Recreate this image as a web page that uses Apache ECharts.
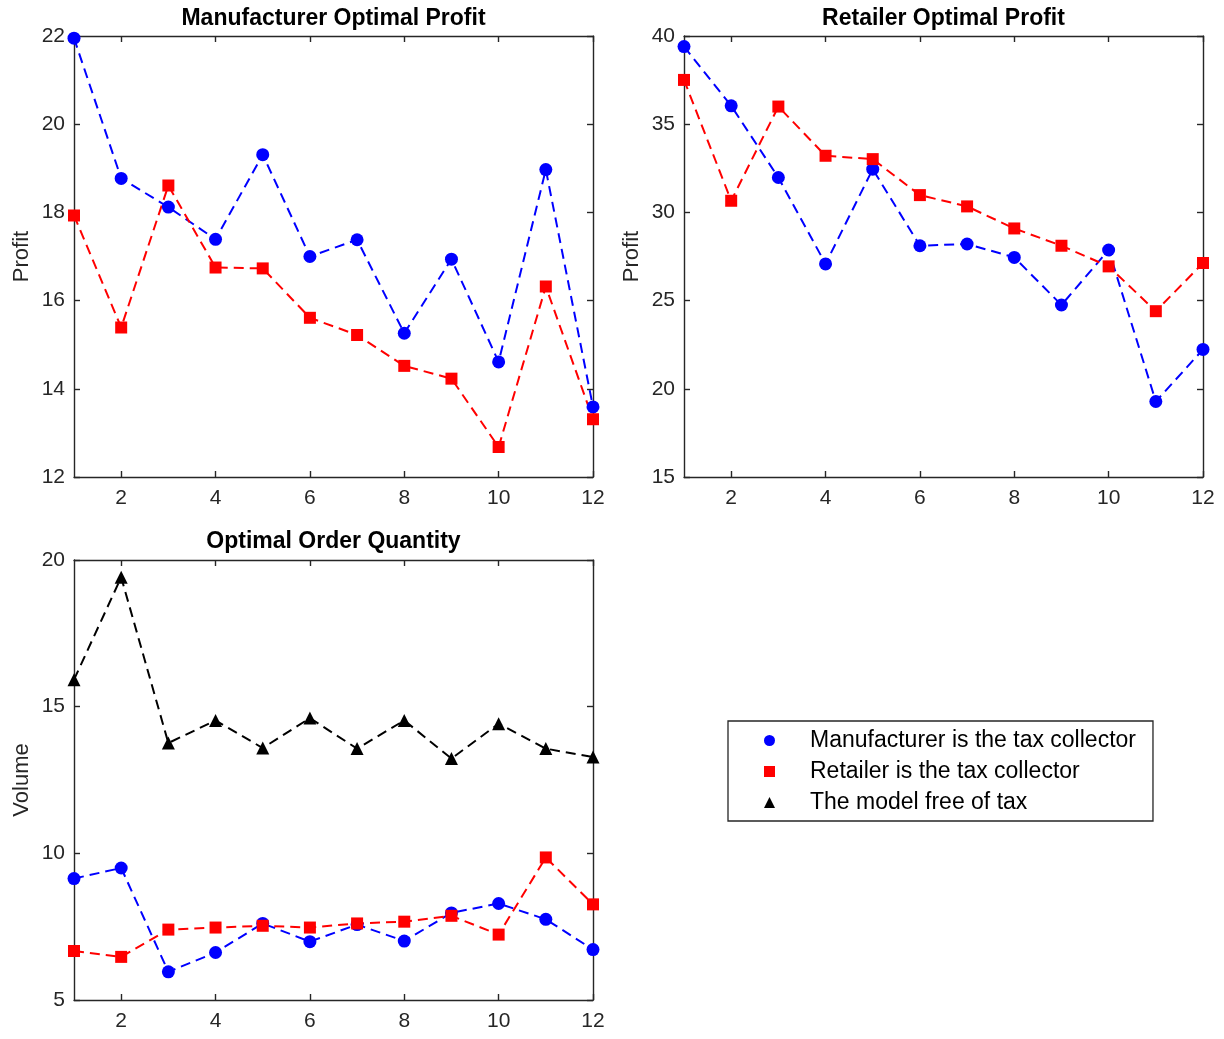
<!DOCTYPE html>
<html>
<head>
<meta charset="utf-8">
<script src="https://cdn.jsdelivr.net/npm/echarts@6/dist/echarts.min.js"></script>
<style>
html,body{margin:0;padding:0;background:#fff;}
#chart{width:1224px;height:1039px;}
</style>
</head>
<body>
<div id="chart"></div>
<script>
// ---- data ----
const periods = [1,2,3,4,5,6,7,8,9,10,11,12];
const xTicks = [2,4,6,8,10,12];

const seriesNames = ['Manufacturer is the tax collector','Retailer is the tax collector','The model free of tax'];

const mfgProfitM = [21.95,18.77,18.12,17.39,19.31,17.00,17.38,15.26,16.94,14.61,18.97,13.59];
const mfgProfitR = [17.93,15.39,18.61,16.75,16.73,15.61,15.22,14.52,14.23,12.68,16.32,13.31];

const retProfitM = [39.40,36.04,31.98,27.08,32.45,28.11,28.21,27.45,24.75,27.87,19.28,22.23];
const retProfitR = [37.51,30.66,36.00,33.21,33.02,30.98,30.34,29.09,28.11,26.94,24.40,27.13];

const qtyM    = [9.14,9.50,5.96,6.62,7.61,6.99,7.57,7.01,7.97,8.29,7.75,6.72];
const qtyR    = [6.67,6.47,7.40,7.47,7.53,7.47,7.61,7.67,7.87,7.23,9.86,8.26];
const qtyFree = [15.92,19.41,13.76,14.53,13.59,14.61,13.57,14.53,13.23,14.42,13.57,13.28];

const titles = ['Manufacturer Optimal Profit','Retailer Optimal Profit','Optimal Order Quantity'];
const yNames = ['Profit','Profit','Volume'];
const yRanges = [[12,22,2],[15,40,5],[5,20,5]];

// ---- build ----
const FONT = '"Liberation Sans", Arial, Helvetica, sans-serif';
const AX = '#262626';
const pairs = arr => periods.map((p,i)=>[p, arr[i]]);

const grids = [
  {left:74, right:631, top:36, height:441},
  {left:684, right:21, top:36, height:441},
  {left:74, right:631, top:560, height:440}
];

const xAxes = [], yAxes = [];
grids.forEach((g,gi)=>{
  xAxes.push({type:'value', gridIndex:gi, min:1, max:12, position:'bottom',
    axisLine:{show:true, onZero:false, lineStyle:{color:AX, width:1.4}},
    axisTick:{show:true, inside:true, length:6, customValues:xTicks, lineStyle:{color:AX, width:1.4}},
    axisLabel:{show:true, customValues:xTicks, margin:11, color:AX, fontSize:21, fontFamily:FONT},
    splitLine:{show:false}});
  xAxes.push({type:'value', gridIndex:gi, min:1, max:12, position:'top',
    axisLine:{show:true, onZero:false, lineStyle:{color:AX, width:1.4}},
    axisTick:{show:true, inside:true, length:6, customValues:xTicks, lineStyle:{color:AX, width:1.4}},
    axisLabel:{show:false}, splitLine:{show:false}});
  const r = yRanges[gi];
  yAxes.push({type:'value', gridIndex:gi, min:r[0], max:r[1], interval:r[2], position:'left',
    name:yNames[gi], nameLocation:'middle', nameGap:41,
    nameTextStyle:{color:AX, fontSize:22, fontFamily:FONT},
    axisLine:{show:true, onZero:false, lineStyle:{color:AX, width:1.4}},
    axisTick:{show:true, inside:true, length:6, lineStyle:{color:AX, width:1.4}},
    axisLabel:{show:true, margin:9, color:AX, fontSize:21, fontFamily:FONT},
    splitLine:{show:false}});
  yAxes.push({type:'value', gridIndex:gi, min:r[0], max:r[1], interval:r[2], position:'right',
    axisLine:{show:true, onZero:false, lineStyle:{color:AX, width:1.4}},
    axisTick:{show:true, inside:true, length:6, lineStyle:{color:AX, width:1.4}},
    axisLabel:{show:false}, splitLine:{show:false}});
});

function mk(name, data, gi, color, symbol, size){
  return {type:'line', name:name, data:pairs(data), xAxisIndex:gi*2, yAxisIndex:gi*2,
    symbol:symbol, symbolSize:size, showSymbol:true, clip:false, animation:false,
    itemStyle:{color:color}, lineStyle:{color:color, width:2, type:[10,6]}, z:3};
}

const series = [
  mk(seriesNames[0], mfgProfitM, 0, '#0000ff', 'circle', 13),
  mk(seriesNames[1], mfgProfitR, 0, '#ff0000', 'rect', 12),
  mk(seriesNames[0], retProfitM, 1, '#0000ff', 'circle', 13),
  mk(seriesNames[1], retProfitR, 1, '#ff0000', 'rect', 12),
  mk(seriesNames[0], qtyM, 2, '#0000ff', 'circle', 13),
  mk(seriesNames[1], qtyR, 2, '#ff0000', 'rect', 12),
  mk(seriesNames[2], qtyFree, 2, '#000000', 'triangle', 13)
];

const titleCenters = [[333.5,7],[943.5,7],[333.5,530]];

const option = {
  backgroundColor:'#ffffff',
  animation:false,
  title: titles.map((t,i)=>({text:t, left:titleCenters[i][0], top:titleCenters[i][1], textAlign:'center', padding:0,
    textStyle:{fontSize:23, fontWeight:'bold', color:'#000', fontFamily:FONT}})),
  grid: grids,
  xAxis: xAxes,
  yAxis: yAxes,
  legend: {
    orient:'vertical', left:728, top:721,
    backgroundColor:'#fff', borderColor:'#262626', borderWidth:1.3,
    padding:[8,17,7,36], itemGap:8, itemWidth:11, itemHeight:11,
    selectedMode:false,
    textStyle:{fontSize:23, color:'#000', fontFamily:FONT, padding:[0,0,0,30]},
    data:[
      {name:seriesNames[0], icon:'circle'},
      {name:seriesNames[1], icon:'rect'},
      {name:seriesNames[2], icon:'triangle'}
    ]
  },
  series: series
};

const chart = echarts.init(document.getElementById('chart'), null, {renderer:'canvas'});
chart.setOption(option);
</script>
</body>
</html>
